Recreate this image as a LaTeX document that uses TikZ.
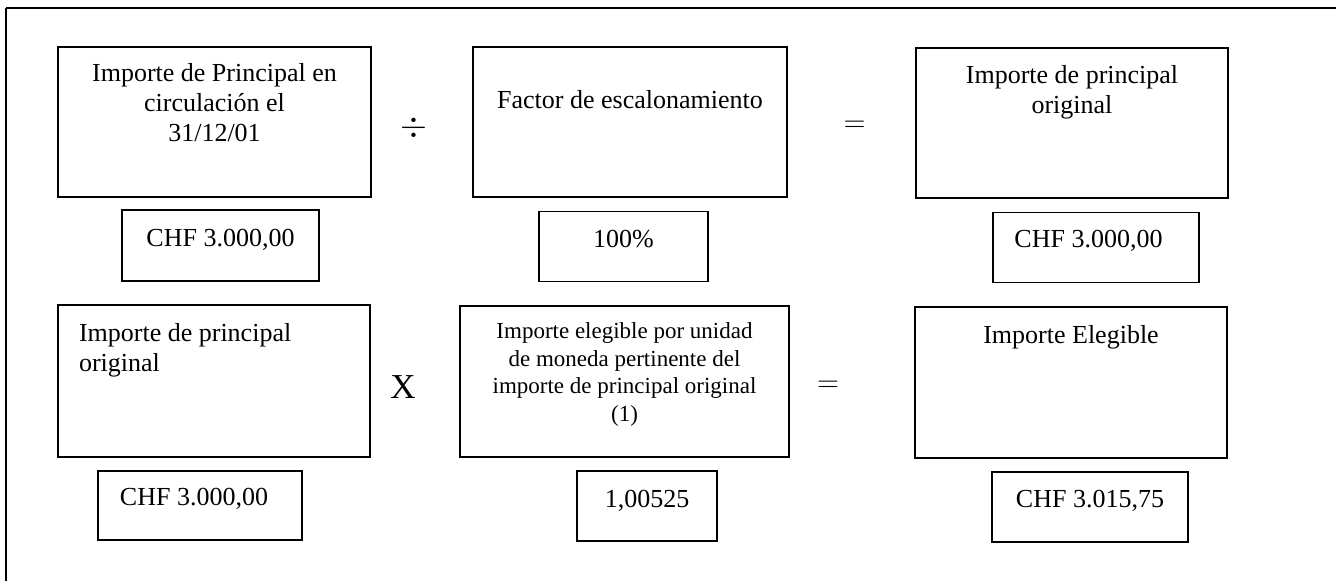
\documentclass[tikz,border=0pt]{standalone}
\usepackage{fontspec}
\setmainfont{Liberation Serif}
\usetikzlibrary{positioning}

\begin{document}
\begin{tikzpicture}[
    % pixel grid of the page, y grows downwards
    x=0.5pt, y=-0.5pt,
    line width=0.9pt,
    bigbox/.style={rectangle, draw, inner sep=0pt, minimum width=156pt, minimum height=75pt},
    valbox/.style={rectangle, draw, inner sep=0pt, minimum height=35pt},
    txt/.style={inner sep=0pt, align=center, font=\fontsize{13}{15}\selectfont},
    smalltxt/.style={txt, font=\fontsize{11.5}{13.75}\selectfont},
    oper/.style={inner sep=0pt, font=\fontsize{14.5}{16}\selectfont}
]
    \useasboundingbox (0,0) rectangle (1336,581);

    % --- FRAME ---
    \draw[line width=1.3pt] (1336,8) -- (6,8);
    \draw[line width=0.6pt] (6,8) -- (6,581);

    % --- ROW 1 ---
    \node (outstanding) [bigbox, minimum width=156.5pt] at (214.5,122) {};
    \node (outstandingtxt) [txt, below=8pt of outstanding.north] {Importe de Principal en\\circulación el\\31/12/01};
    \node (divop) [oper, font=\fontsize{16}{18}\selectfont] at (413.5,128) {$\div$};

    \node (factor) [bigbox, minimum width=157pt] at (630,122) {};
    \node (factortxt) [txt, below=21.5pt of factor.north] {Factor de escalonamiento};
    \node (eqop1) [oper] at (854.5,126) {$=$};

    \node (original) [bigbox] at (1072,123) {};
    \node (originaltxt) [txt, below=8.5pt of original.north] {Importe de principal\\original};

    % values of row 1
    \node (outval) [valbox, minimum width=98.5pt, minimum height=35.5pt] at (220.5,245.5) {};
    \node (outvaltxt) [txt, below=9.5pt of outval.north] {CHF 3.000,00};
    \node (factval) [valbox, minimum width=84.5pt] at (623.5,246.5) {};
    \node (factvaltxt) [txt, below=9.5pt of factval.north] {100\%};
    \node (origval) [valbox, minimum width=103pt] at (1096,247.5) {};
    \node (origvaltxt) [txt, below=9pt of origval.north, xshift=-3.75pt] {CHF 3.000,00};

    % --- ROW 2 ---
    \node (principal) [bigbox, minimum height=76pt] at (214,381) {};
    \node (principaltxt) [txt, align=left, below right=9pt and 10.5pt of principal.north west] {Importe de principal\\original};
    \node (mulop) [oper, font=\fontsize{17.5}{20}\selectfont] at (403,387) {X};

    \node (perunit) [bigbox, minimum width=164.5pt, minimum height=75.5pt] at (624.5,381.5) {};
    \node (perunittxt) [smalltxt, below=8.5pt of perunit.north] {Importe elegible por unidad\\de moneda pertinente del\\importe de principal original\\(1)};
    \node (eqop2) [oper] at (828,386) {$=$};

    \node (eligible) [bigbox, minimum height=75.5pt] at (1071,382.5) {};
    \node (eligibletxt) [txt, below=9pt of eligible.north] {Importe Elegible};

    % values of row 2
    \node (princval) [valbox, minimum width=102pt, minimum height=34.5pt] at (200,505.5) {};
    \node (princvaltxt) [txt, below=8.5pt of princval.north, xshift=-3pt] {CHF 3.000,00};
    \node (unitval) [valbox, minimum width=70pt] at (647,506) {};
    \node (unitvaltxt) [txt, below=9.5pt of unitval.north] {1,00525};
    \node (eligval) [valbox, minimum width=98pt] at (1090,507) {};
    \node (eligvaltxt) [txt, below=9pt of eligval.north] {CHF 3.015,75};

\end{tikzpicture}
\end{document}
